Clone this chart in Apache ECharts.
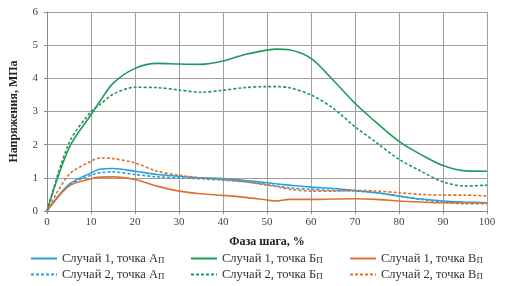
<!DOCTYPE html>
<html>
<head>
<meta charset="utf-8">
<script src="https://cdn.jsdelivr.net/npm/echarts@6/dist/echarts.min.js"></script>
<style>
  html, body { margin: 0; padding: 0; background: #fff; }
  #chart { width: 505px; height: 286px; }
</style>
</head>
<body>
<div id="chart"></div>
<script>
// фаза шага, %
var phase = [0, 5, 10, 12, 15, 20, 25, 30, 35, 40, 45, 50, 52, 55, 60, 65, 70, 75, 80, 85, 90, 95, 100];

// напряжения, МПа
var case1A = [0, 0.8, 1.15, 1.26, 1.28, 1.2, 1.1, 1.05, 1.0, 0.98, 0.92, 0.85, 0.82, 0.78, 0.72, 0.68, 0.62, 0.55, 0.45, 0.36, 0.3, 0.27, 0.25];
var case2A = [0, 0.78, 1.08, 1.15, 1.18, 1.1, 1.03, 1.0, 0.97, 0.93, 0.88, 0.8, 0.76, 0.7, 0.65, 0.62, 0.6, 0.55, 0.45, 0.35, 0.26, 0.22, 0.22];
var case1B = [0, 1.9, 2.9, 3.3, 3.85, 4.3, 4.45, 4.43, 4.42, 4.52, 4.72, 4.85, 4.88, 4.86, 4.6, 3.95, 3.25, 2.65, 2.1, 1.7, 1.37, 1.21, 1.2];
var case2B = [0, 2.05, 3.0, 3.2, 3.52, 3.73, 3.72, 3.65, 3.58, 3.64, 3.72, 3.75, 3.75, 3.72, 3.5, 3.1, 2.54, 2.05, 1.56, 1.2, 0.88, 0.75, 0.78];
var case1V = [0, 0.75, 0.97, 1.02, 1.03, 0.95, 0.75, 0.6, 0.52, 0.47, 0.41, 0.33, 0.3, 0.35, 0.35, 0.36, 0.37, 0.35, 0.3, 0.27, 0.25, 0.25, 0.25];
var case2V = [0, 1.1, 1.5, 1.6, 1.58, 1.45, 1.2, 1.08, 1.0, 0.95, 0.88, 0.78, 0.74, 0.66, 0.6, 0.6, 0.62, 0.6, 0.55, 0.5, 0.48, 0.48, 0.45];

var names = [
  'Случай 1, точка А', 'Случай 2, точка А',
  'Случай 1, точка Б', 'Случай 2, точка Б',
  'Случай 1, точка В', 'Случай 2, точка В'
];

var blue = '#2a9fd8', green = '#1f9a5a', orange = '#e0702e';
var font = 'Liberation Serif';

function pairs(arr) {
  return phase.map(function (x, i) { return [x, arr[i]]; });
}

function line(name, data, color, dashed) {
  return {
    name: name,
    type: 'line',
    smooth: 0.3,
    symbol: 'none',
    data: pairs(data),
    lineStyle: { color: color, width: 1.6, type: dashed ? [3, 2] : 'solid' },
    itemStyle: { color: color }
  };
}

// одна легенда на каждую серию, чтобы поставить их сеткой 3x2
function legendItem(left, top, name) {
  return {
    left: left,
    top: top,
    padding: 0,
    itemWidth: 26,
    itemHeight: 8,
    itemGap: 8,
    itemStyle: { opacity: 0 },
    data: [name],
    formatter: function (n) { return n + '{sub|П}'; },
    textStyle: {
      fontFamily: font, fontSize: 12.5, color: '#333',
      rich: { sub: { fontFamily: font, fontSize: 9, color: '#333', verticalAlign: 'bottom' } }
    }
  };
}

var myChart = echarts.init(document.getElementById('chart'));
var option = {
  animation: false,
  grid: { left: 45, right: 18, top: 12, bottom: 75 },
  xAxis: {
    type: 'value', min: 0, max: 100, interval: 10,
    name: 'Фаза шага, %', nameLocation: 'middle', nameGap: 25,
    nameTextStyle: { fontFamily: font, fontWeight: 'bold', fontSize: 12, color: '#222' },
    axisLine: { lineStyle: { color: '#888' } },
    axisTick: { show: true, length: 3, lineStyle: { color: '#888' } },
    axisLabel: { fontFamily: font, fontSize: 11, color: '#444', margin: 6 },
    splitLine: { show: true, lineStyle: { color: '#a0a0a0', width: 1 } }
  },
  yAxis: {
    type: 'value', min: 0, max: 6, interval: 1,
    name: 'Напряжения, МПа', nameLocation: 'middle', nameGap: 27,
    nameTextStyle: { fontFamily: font, fontWeight: 'bold', fontSize: 12, color: '#222' },
    axisLine: { show: true, lineStyle: { color: '#888' } },
    axisTick: { show: true, length: 3, lineStyle: { color: '#888' } },
    axisLabel: { fontFamily: font, fontSize: 11, color: '#444', margin: 9 },
    splitLine: { show: true, lineStyle: { color: '#a0a0a0', width: 1 } }
  },
  legend: [
    legendItem(30, 252, names[0]),
    legendItem(30, 268, names[1]),
    legendItem(190, 252, names[2]),
    legendItem(190, 268, names[3]),
    legendItem(349, 252, names[4]),
    legendItem(349, 268, names[5])
  ],
  series: [
    line(names[0], case1A, blue, false),
    line(names[1], case2A, blue, true),
    line(names[2], case1B, green, false),
    line(names[3], case2B, green, true),
    line(names[4], case1V, orange, false),
    line(names[5], case2V, orange, true)
  ]
};
myChart.setOption(option);
</script>
</body>
</html>
